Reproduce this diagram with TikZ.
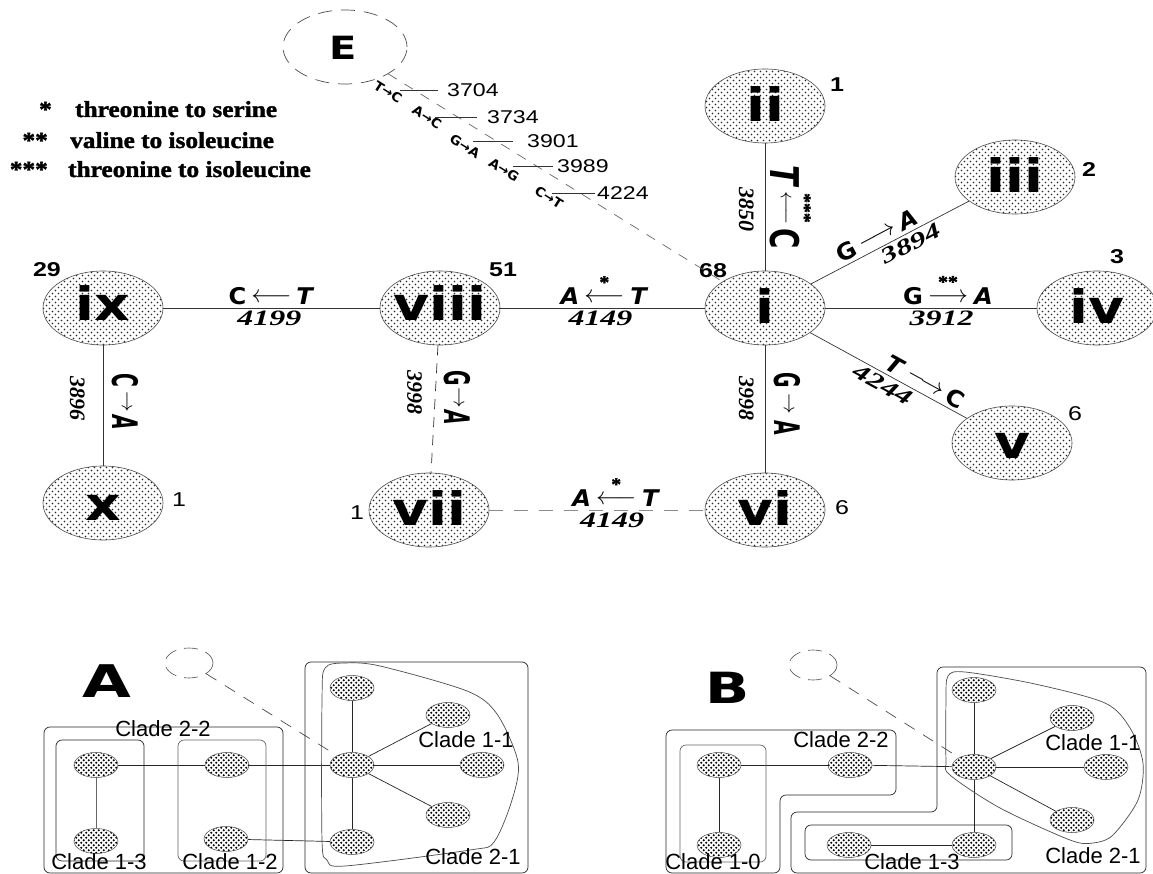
\documentclass[tikz,border=0pt]{standalone}
\usepackage{amsmath}
\usepackage{fontspec}
\usetikzlibrary{shapes.geometric,patterns}
\setmainfont{Liberation Sans}
\newfontfamily\fHap{DejaVu Sans}[FakeStretch=1.2]
\newfontfamily\fBig{DejaVu Sans}
\newfontfamily\fArr{DejaVu Sans}
\newfontfamily\fCnt{Liberation Sans}[FakeStretch=1.25]
\newfontfamily\fMut{DejaVu Sans}[FakeStretch=1.05]
\newfontfamily\fVMut{DejaVu Sans}[FakeStretch=0.9]
\newfontfamily\fNum{Liberation Serif}[FakeStretch=1.45]
\newfontfamily\fVNum{Liberation Serif}
\newfontfamily\fLeg{Liberation Serif}[FakeStretch=1.1,FakeBold=1.5]
\newfontfamily\fClade{Liberation Sans}

\pgfdeclarepatternformonly{sparsedots}{\pgfqpoint{-1pt}{-1pt}}{\pgfqpoint{7pt}{7pt}}{\pgfqpoint{6pt}{6pt}}{%
  \pgfpathcircle{\pgfqpoint{1.5pt}{1.5pt}}{0.8pt}%
  \pgfpathcircle{\pgfqpoint{4.5pt}{4.5pt}}{0.8pt}%
  \pgfusepath{fill}}
\pgfdeclarepatternformonly{densedots}{\pgfqpoint{-1pt}{-1pt}}{\pgfqpoint{6pt}{6pt}}{\pgfqpoint{5pt}{5pt}}{%
  \pgfpathcircle{\pgfqpoint{1.25pt}{1.25pt}}{1.15pt}%
  \pgfpathcircle{\pgfqpoint{3.75pt}{3.75pt}}{1.15pt}%
  \pgfusepath{fill}}

\newcommand{\Up}[1]{\textbf{#1}}
\newcommand{\It}[1]{\textbf{\textit{#1}}}
\newcommand{\Stars}[1]{\hbox{\fLeg\bfseries\fontsize{18}{18}\selectfont #1}}
\newcommand{\LA}[1]{\raisebox{0.1em}{$\overset{\Stars{#1}}{\longleftarrow}$}}
\newcommand{\RA}[1]{\raisebox{0.1em}{$\overset{\Stars{#1}}{\longrightarrow}$}}
\newcommand{\VU}[1]{\scalebox{0.95}[1.6]{\textbf{#1}}}
\newcommand{\VI}[1]{\scalebox{0.95}[1.6]{\textbf{\textit{#1}}}}
\newcommand{\VRA}{\raisebox{9pt}{$\rightarrow$}}
\newcommand{\Ar}{{\fArr\char"2192}}

\begin{document}
\begin{tikzpicture}[x=1pt,y=-1pt,
 hap/.style={ellipse, draw=black!70, line width=0.6pt, minimum width=120pt, minimum height=74pt, inner sep=0pt, pattern=sparsedots, pattern color=black!85},
 haplab/.style={font=\fHap\bfseries\fontsize{46}{46}\selectfont, inner sep=0pt},
 cntb/.style={font=\fCnt\bfseries\fontsize{20}{20}\selectfont, inner sep=0pt},
 cntr/.style={font=\fCnt\fontsize{20}{20}\selectfont, inner sep=0pt},
 edge/.style={draw=black!80, line width=0.7pt},
 mlab/.style={font=\fMut\fontsize{23}{23}\selectfont, sloped, inner sep=3pt},
 nlab/.style={font=\fNum\bfseries\itshape\fontsize{22}{22}\selectfont, sloped, inner sep=3pt},
 vlab/.style={font=\fVMut\fontsize{22}{22}\selectfont, rotate=-90, anchor=south, inner sep=9pt},
 vnlab/.style={font=\fVNum\bfseries\itshape\fontsize{22}{22}\selectfont, rotate=-90, anchor=north, inner sep=11pt},
 tick/.style={font=\fCnt\fontsize{18.5}{18.5}\selectfont, inner sep=0pt, anchor=west},
 emut/.style={font=\fMut\bfseries\fontsize{13}{13}\selectfont, inner sep=0pt, rotate=-32},
 leg/.style={font=\fLeg\bfseries\fontsize{23}{23}\selectfont, inner sep=0pt},
 sell/.style={ellipse, draw=black!70, line width=0.5pt, minimum width=44pt, minimum height=25pt, inner sep=0pt, pattern=densedots, pattern color=black},
 sE/.style={ellipse, draw=black!70, line width=0.6pt, dash pattern=on 14pt off 8pt, minimum width=48pt, minimum height=30pt, inner sep=0pt},
 pedge/.style={draw=black!85, line width=0.7pt},
 clade/.style={draw=black!85, line width=0.7pt, rounded corners=6pt},
 cladelab/.style={font=\fClade\fontsize{22}{22}\selectfont, inner sep=0pt},
 panel/.style={font=\fBig\bfseries\fontsize{45}{45}\selectfont, inner sep=0pt}
]
\useasboundingbox (0,0) rectangle (1153,874);
\fill[white] (0,0) rectangle (1153,874);

% ---------- legend ----------
\node[leg, anchor=base east] (s1) at (52,117) {*};
\node[leg, anchor=base west] (t1) at (75,117) {threonine to serine};
\node[leg, anchor=base east] (s2) at (48,148) {**};
\node[leg, anchor=base west] (t2) at (70,148) {valine to isoleucine};
\node[leg, anchor=base east] (s3) at (48,177) {***};
\node[leg, anchor=base west] (t3) at (68,177) {threonine to isoleucine};

% ---------- haplotype nodes ----------
\node[hap] (ii) at (765,106) {};
\node[hap] (iii) at (1015,177) {};
\node[hap] (i) at (765,308) {};
\node[hap] (iv) at (1097,308) {};
\node[hap] (v) at (1012,443) {};
\node[hap] (vi) at (765,510) {};
\node[hap] (vii) at (429,510) {};
\node[hap] (viii) at (440,308) {};
\node[hap] (ix) at (103,308) {};
\node[hap] (x) at (103,503) {};
\node[ellipse, draw=black!70, line width=0.7pt, dash pattern=on 14pt off 9pt, minimum width=124pt, minimum height=74pt, inner sep=0pt] (E) at (345,47) {};

\node[haplab] (iiL) at (765,104) {ii};
\node[haplab] (iiiL) at (1015,175) {iii};
\node[haplab] (iL) at (765,306) {i};
\node[haplab] (ivL) at (1097,306) {iv};
\node[haplab] (vL) at (1012,446) {v};
\node[haplab] (viL) at (765,508) {vi};
\node[haplab] (viiL) at (429,508) {vii};
\node[haplab] (viiiL) at (440,303) {viii};
\node[haplab] (ixL) at (103,303) {ix};
\node[haplab] (xL) at (103,508) {x};
\node[font=\fBig\bfseries\fontsize{32}{32}\selectfont, inner sep=0pt] (EL) at (343,48) {\scalebox{1.25}[1]{E}};

% counts
\node[cntb] (nii) at (837,85) {1};
\node[cntb] (niii) at (1089,170) {2};
\node[cntb] (niv) at (1117,257) {3};
\node[cntb] (ni) at (713,271) {68};
\node[cntb] (nviii) at (503,270) {51};
\node[cntb] (nix) at (47,270) {29};
\node[cntr] (nx) at (179,500) {1};
\node[cntr] (nvii) at (357,513) {1};
\node[cntr] (nvi) at (842,508) {6};
\node[cntr] (nv) at (1075,414) {6};

% ---------- connectors ----------
\draw[edge, draw=black!60, dash pattern=on 10pt off 9pt] (E) -- (i);

\draw[edge] (ix) -- node[mlab, above, pos=.5]{\Up{C}\hspace{5pt}\LA{}\hspace{5pt}\It{T}} node[nlab, below, pos=.49]{4199} (viii);
\draw[edge] (viii) -- node[mlab, above, pos=.51]{\It{A}\hspace{5pt}\LA{*}\hspace{6pt}\It{T}} node[nlab, below, pos=.49]{4149} (i);
\draw[edge] (i) -- node[mlab, above, pos=.58]{\Up{G}\hspace{5pt}\RA{**}\hspace{6pt}\It{A}} node[nlab, below, pos=.55]{3912} (iv);
\draw[edge, draw=black!45, dash pattern=on 14pt off 11pt] (vii) -- node[mlab, above, pos=.59]{\It{A}\hspace{5pt}\LA{*}\hspace{6pt}\It{T}} node[nlab, below, pos=.57]{4149} (vi);
\draw[edge] (i) -- node[mlab, above, pos=.45]{\Up{G}\hspace{5pt}\RA{}\hspace{5pt}\It{A}} node[nlab, below, pos=.6]{3894} (iii);
\draw[edge] (i) -- node[mlab, above, pos=.7]{\It{T}\hspace{5pt}\RA{}\hspace{5pt}\Up{C}} node[nlab, below, pos=.5]{4244} (v);

\draw[edge] (ii) -- node[vlab, pos=.5, inner sep=5pt]{\scalebox{1.5}[1.8]{\It{T}}\hspace{4pt}\raisebox{10pt}{$\overset{\raisebox{6pt}{\Stars{***}}}{\longleftarrow}$}\hspace{4pt}\scalebox{1.4}[1.8]{\Up{C}}} node[vnlab, pos=.52]{3850} (i);
\draw[edge] (i) -- node[vlab, pos=.46]{\VU{G}\hspace{6pt}\VRA\hspace{6pt}\VU{A}} node[vnlab, pos=.42]{3998} (vi);
\draw[edge] (ix) -- node[vlab, pos=.47]{\VU{C}\hspace{4pt}\VRA\hspace{4pt}\VI{A}} node[vnlab, pos=.44, inner sep=18pt]{3896} (x);
\draw[edge, dash pattern=on 10pt off 8pt] (viii) -- node[vlab, pos=.41]{\VU{G}\hspace{2pt}\VRA\hspace{2pt}\VI{A}} node[vnlab, pos=.37, inner sep=13pt]{3998} (vii);

% ---------- mutations on E branch ----------
\node[tick] (t3704) at (447,90) {3704};
\node[tick] (t3734) at (487,117) {3734};
\node[tick] (t3901) at (527,141) {3901};
\node[tick] (t3989) at (557,166) {3989};
\node[tick] (t4224) at (597,193) {4224};
\draw[edge, line width=0.6pt] (t3704.west) ++(-9,0) coordinate (k1) -- ++(-38,0);
\draw[edge, line width=0.6pt] (t3734.west) ++(-10,0) coordinate (k2) -- ++(-42,0);
\draw[edge, line width=0.6pt] (t3901.west) ++(-14,0) coordinate (k3) -- ++(-40,0);
\draw[edge, line width=0.6pt] (t3989.west) ++(-4,0) coordinate (k4) -- ++(-40,0);
\draw[edge, line width=0.6pt] (t4224.west) ++(-2,0) coordinate (k5) -- ++(-43,0);
\node[emut] (m1) at (388,92) {T\Ar C};
\node[emut] (m2) at (427,117) {A\Ar C};
\node[emut] (m3) at (465,146) {G\Ar A};
\node[emut] (m4) at (504,170) {A\Ar G};
\node[emut] (m5) at (549,197) {C\Ar T};

% ---------- panel A ----------
\node[panel] (pA) at (107,681) {\scalebox{1.4}[1]{A}};
\node[sE] (AE) at (189,663) {};
\node[sell] (Ahub) at (352,765) {};
\node[sell] (Atop) at (352,688) {};
\node[sell] (Aur) at (448,715) {};
\node[sell] (Ar) at (482,765) {};
\node[sell] (Alr) at (448,815) {};
\node[sell] (Abot) at (352,842) {};
\node[sell] (A13t) at (96,765) {};
\node[sell] (A13b) at (96,841) {};
\node[sell] (A12t) at (227,765) {};
\node[sell] (A12b) at (226,839) {};
\draw[pedge, dash pattern=on 12pt off 10pt, draw=black!70] (AE) -- (Ahub);
\draw[pedge] (Atop) -- (Ahub);
\draw[pedge] (Ahub) -- (Aur);
\draw[pedge] (Ahub) -- (Ar);
\draw[pedge] (Ahub) -- (Alr);
\draw[pedge] (Ahub) -- (Abot);
\draw[pedge] (A13t) -- (A12t);
\draw[pedge] (A12t) -- (Ahub);
\draw[pedge, draw=black!60] (A13t) -- (A13b);
\draw[pedge] (A12b) -- (Abot);
\draw[clade] (44,727) rectangle (283,873);
\draw[clade] (56,740) rectangle (144,861);
\draw[clade, draw=black!60] (178,740) rectangle (266,861);
\draw[clade] (305,662) rectangle (528,873);
\draw[pedge, draw=black!70] plot[smooth cycle, tension=0.5] coordinates {(322,700) (325,668) (345,663) (380,666) (467,691) (497,714) (518,762) (512,800) (494,842) (470,850) (345,866) (327,860) (322,840)};
\node[cladelab] (lA22) at (163,729) {Clade 2-2};
\node[cladelab] (lA13) at (99,862) {Clade 1-3};
\node[cladelab] (lA12) at (230,862) {Clade 1-2};
\node[cladelab] (lA11) at (466,740) {Clade 1-1};
\node[cladelab] (lA21) at (473,857) {Clade 2-1};

% ---------- panel B ----------
\node[panel, font=\fBig\bfseries\fontsize{43}{43}\selectfont] (pB) at (728,688) {\scalebox{1.35}[1]{B}};
\node[sE] (BE) at (813,665) {};
\node[sell] (Bhub) at (974,767) {};
\node[sell] (Btop) at (974,690) {};
\node[sell] (Bur) at (1072,718) {};
\node[sell] (Br) at (1106,767) {};
\node[sell] (Blr) at (1072,820) {};
\node[sell] (Bbot) at (974,845) {};
\node[sell] (B13l) at (849,845) {};
\node[sell] (B10t) at (719,765) {};
\node[sell] (B10b) at (719,845) {};
\node[sell] (B22) at (850,765) {};
\draw[pedge, dash pattern=on 12pt off 10pt, draw=black!70] (BE) -- (Bhub);
\draw[pedge] (Btop) -- (Bhub);
\draw[pedge] (Bhub) -- (Bur);
\draw[pedge] (Bhub) -- (Br);
\draw[pedge] (Bhub) -- (Blr);
\draw[pedge] (Bhub) -- (Bbot);
\draw[pedge] (B13l) -- (Bbot);
\draw[pedge] (B10t) -- (B22);
\draw[pedge] (B22) -- (Bhub);
\draw[pedge] (B10t) -- (B10b);
\draw[clade] (666,873) -- (666,730) -- (896,730) -- (896,795) -- (780,795) -- (780,873) -- cycle;
\draw[clade, draw=black!60] (680,745) rectangle (766,862);
\draw[clade] (791,873) -- (791,812) -- (937,812) -- (937,667) -- (1146,667) -- (1146,873) -- cycle;
\draw[clade] (805,825) rectangle (1012,860);
\draw[pedge, draw=black!70] plot[smooth cycle, tension=0.5] coordinates {(946,700) (948,676) (965,672) (1035,684) (1105,703) (1130,728) (1143,763) (1138,800) (1113,835) (1093,843) (1070,840) (1000,808) (950,775) (946,760)};
\node[cladelab] (lB22) at (841,740) {Clade 2-2};
\node[cladelab] (lB11) at (1093,743) {Clade 1-1};
\node[cladelab] (lB21) at (1093,856) {Clade 2-1};
\node[cladelab] (lB10) at (713,862) {Clade 1-0};
\node[cladelab] (lB13) at (912,862) {Clade 1-3};
\end{tikzpicture}
\end{document}
